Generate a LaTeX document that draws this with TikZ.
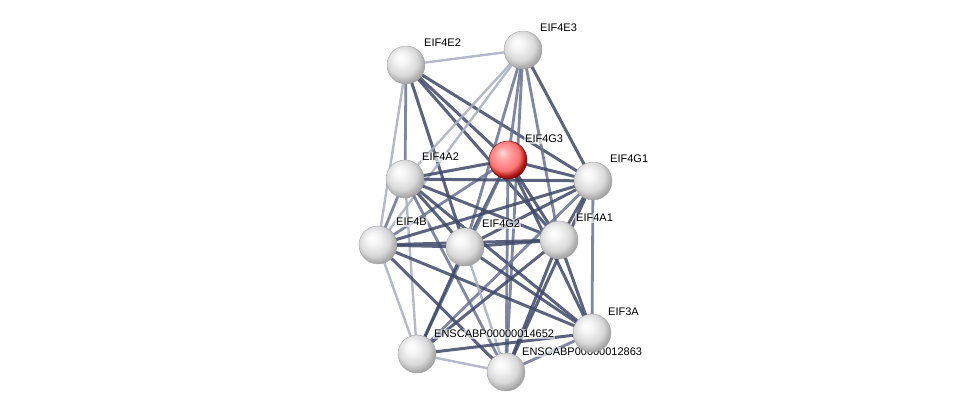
\documentclass[tikz,border=0pt]{standalone}
\usepackage{fontspec}
\setmainfont{Liberation Sans}
\definecolor{edark}{HTML}{3E4868}
\definecolor{emid}{HTML}{6A7391}
\definecolor{elight}{HTML}{A8AEC2}
\pgfdeclareradialshading{sballgray}{\pgfpoint{-8bp}{10bp}}{color(0bp)=(white);color(8bp)=(white!96!black);color(20bp)=(white!85!black);color(26bp)=(white!70!black);color(30bp)=(white!60!black);color(50bp)=(white!60!black)}
\pgfdeclareradialshading{sballred}{\pgfpoint{-8bp}{10bp}}{color(0bp)=(red!15!white);color(8bp)=(red!35!white);color(20bp)=(red!55!white);color(26bp)=(red!65!black!90!white);color(30bp)=(red!50!black);color(50bp)=(red!50!black)}
\begin{document}
\begin{tikzpicture}[x=1pt,y=-1pt,
  edgeD/.style={draw=edark,line width=3pt,opacity=0.85},
  edgeM/.style={draw=emid,line width=2.8pt,opacity=0.85},
  edgeL/.style={draw=elight,line width=2.4pt,opacity=0.85},
  protein/.style={circle,minimum size=38pt,inner sep=0pt,shading=sballgray,draw=gray!70,line width=0.4pt},
  query/.style={circle,minimum size=38pt,inner sep=0pt,shading=sballred,draw=red!40!black,line width=0.4pt},
  lbl/.style={anchor=west,font=\fontsize{11}{13}\selectfont,inner sep=1pt,fill=white,fill opacity=0.6,text opacity=1}]
\useasboundingbox (0,0) rectangle (976,419);
\coordinate (e2) at (406,65);
\coordinate (e3) at (523,50);
\coordinate (g3) at (508,160);
\coordinate (a2) at (405,179);
\coordinate (g1) at (593,181);
\coordinate (b) at (378,245);
\coordinate (g2) at (465,247);
\coordinate (a1) at (559,240);
\coordinate (x3a) at (592,333);
\coordinate (p1) at (417,354);
\coordinate (p2) at (506,372);
% edges
\draw[edgeL] (e2) -- (e3);
\draw[edgeM] (e2) -- (a2);
\draw[edgeL] (e2) -- (b);
\draw[edgeD] (e2) -- (g2);
\draw[edgeD] (e2) -- (g3);
\draw[edgeD] (e2) -- (g1);
\draw[edgeD] (e2) -- (a1);
\draw[edgeL] (e3) -- (a2);
\draw[edgeL] (e3) -- (b);
\draw[edgeM] (e3) -- (g2);
\draw[edgeM] (e3) -- (g3);
\draw[edgeM] (e3) -- (a1);
\draw[edgeD] (e3) -- (g1);
\draw[edgeM] (e3) -- (p2);
\draw[edgeD] (g3) -- (a2);
\draw[edgeD] (g3) -- (g1);
\draw[edgeM] (g3) -- (b);
\draw[edgeD] (g3) -- (g2);
\draw[edgeD] (g3) -- (a1);
\draw[edgeD] (g3) -- (x3a);
\draw[edgeM] (g3) -- (p1);
\draw[edgeM] (g3) -- (p2);
\draw[edgeD] (a2) -- (g1);
\draw[edgeM] (a2) -- (b);
\draw[edgeD] (a2) -- (g2);
\draw[edgeD] (a2) -- (a1);
\draw[edgeD] (a2) -- (x3a);
\draw[edgeL] (a2) -- (p1);
\draw[edgeM] (a2) -- (p2);
\draw[edgeD] (g1) -- (a1);
\draw[edgeM] (g1) -- (x3a);
\draw[edgeD] (g1) -- (g2);
\draw[edgeD] (g1) -- (b);
\draw[edgeM] (g1) -- (p1);
\draw[edgeD] (g1) -- (p2);
\draw[edgeD] (b) -- (g2);
\draw[edgeD] (b) -- (a1);
\draw[edgeL] (b) -- (p1);
\draw[edgeD] (b) -- (p2);
\draw[edgeD] (b) -- (x3a);
\draw[edgeD] (g2) -- (a1);
\draw[edgeD] (g2) -- (p1);
\draw[edgeL] (g2) -- (p2);
\draw[edgeD] (g2) -- (x3a);
\draw[edgeD] (a1) -- (x3a);
\draw[edgeD] (a1) -- (p1);
\draw[edgeD] (a1) -- (p2);
\draw[edgeD] (x3a) -- (p1);
\draw[edgeM] (x3a) -- (p2);
\draw[edgeL] (p1) -- (p2);
% labels
\node[lbl] (le2) at (423,43) {EIF4E2};
\node[lbl] (le3) at (539,28) {EIF4E3};
\node[lbl] (lg3) at (524,139) {EIF4G3};
\node[lbl] (la2) at (421,157) {EIF4A2};
\node[lbl] (lg1) at (609,159) {EIF4G1};
\node[lbl] (lb) at (395,222) {EIF4B};
\node[lbl] (lg2) at (481,224) {EIF4G2};
\node[lbl] (la1) at (575,218) {EIF4A1};
\node[lbl] (l3a) at (607,312) {EIF3A};
\node[lbl] (lp1) at (433,334) {ENSCABP00000014652};
\node[lbl] (lp2) at (521,352) {ENSCABP00000012863};
% nodes
\node[protein] (ne2) at (e2) {};
\node[protein] (ne3) at (e3) {};
\node[query] (ng3) at (g3) {};
\node[protein] (na2) at (a2) {};
\node[protein] (ng1) at (g1) {};
\node[protein] (nb) at (b) {};
\node[protein] (ng2) at (g2) {};
\node[protein] (na1) at (a1) {};
\node[protein] (n3a) at (x3a) {};
\node[protein] (np1) at (p1) {};
\node[protein] (np2) at (p2) {};
\end{tikzpicture}
\end{document}
